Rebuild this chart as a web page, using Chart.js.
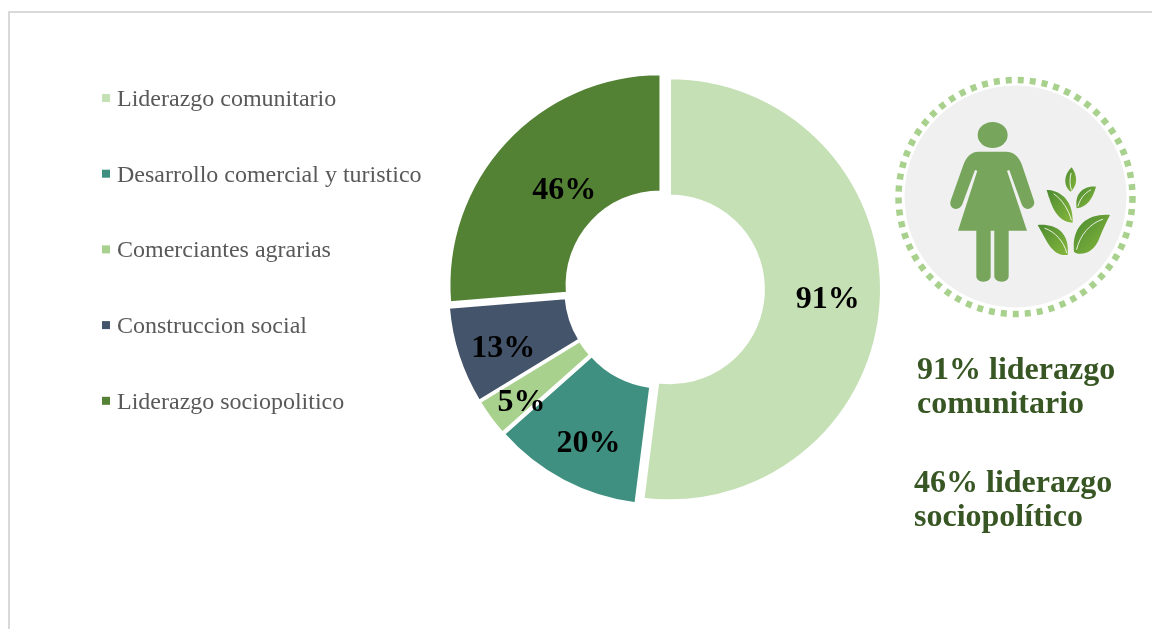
<!DOCTYPE html>
<html lang="es">
<head>
<meta charset="utf-8">
<title>Liderazgo</title>
<script src="https://cdn.jsdelivr.net/npm/chart.js@4"></script>
<style>
  html, body { margin: 0; padding: 0; background: #fff; overflow: hidden; }
  #page { position: relative; width: 1152px; height: 629px; overflow: hidden; }
  #frame { position: absolute; left: 8px; top: 11px; width: 1200px; height: 700px; border: 2px solid #d9d9d9; box-sizing: border-box; }
  canvas { position: absolute; left: 0; top: 0; }
  #icon { position: absolute; left: 0; top: 0; }
  .note { position: absolute; font: bold 32px/34px "Liberation Serif", serif; color: #375623; white-space: nowrap; }
</style>
</head>
<body>
<div id="page">
  <div id="frame"></div>
  <canvas id="chart" width="1152" height="629"></canvas>
  <svg id="icon" width="1152" height="629" viewBox="0 0 1152 629">
    <defs>
      <linearGradient id="leaf" x1="0" y1="0" x2="1" y2="1">
        <stop offset="0" stop-color="#4c8a32"/>
        <stop offset="1" stop-color="#86b83c"/>
      </linearGradient>
    </defs>
    <circle cx="1015.5" cy="196.5" r="111" fill="#f0f0f0"/>
    <circle cx="1015.5" cy="197" r="117" fill="none" stroke="#a9d18e" stroke-width="6.5" stroke-dasharray="6 6.03"/>
    <g transform="translate(880 60) scale(0.3333)">
      <ellipse cx="338" cy="225" rx="45" ry="39" fill="#76a55b"/>
      <path fill="#76a55b" d="M295 275 L380 275 C402 275 418 292 426 315 L462 422 C466 436 455 447 443 447 C434 447 428 441 425 433 L388 330 L381 332 L441 512 L386 512 L386 648 C386 658 378 665 366 665 C352 665 343 658 343 648 L343 512 L332 512 L332 648 C332 658 324 665 310 665 C297 665 289 658 289 648 L289 512 L234 512 L292 332 L285 330 L247 433 C243 442 236 447 228 447 C216 447 208 436 212 422 L250 315 C258 292 273 275 295 275 Z"/>
      <g fill="url(#leaf)">
        <path d="M575 322 C550 345 550 380 572 395 C595 375 592 345 575 322 Z"/>
        <path d="M648 380 C610 378 583 400 590 445 C625 440 640 410 648 380 Z"/>
        <path d="M500 390 C530 390 580 410 578 488 C530 485 515 440 500 390 Z"/>
        <path d="M473 495 C530 490 570 520 563 585 C515 590 500 540 473 495 Z"/>
        <path d="M690 465 C620 460 575 500 582 575 C590 585 640 590 660 530 C670 505 680 485 690 465 Z"/>
      </g>
      <g fill="none" stroke="#ffffff" stroke-width="3" stroke-linecap="round" opacity="0.85">
        <path d="M573 340 C568 360 570 378 574 390"/>
        <path d="M632 390 C612 400 600 418 594 438"/>
        <path d="M522 402 C548 420 566 450 574 480"/>
        <path d="M495 505 C525 515 552 545 560 578"/>
        <path d="M668 478 C630 490 600 525 590 568"/>
      </g>
    </g>
  </svg>
  <div class="note" style="left:917px;top:351px">91% liderazgo<br>comunitario</div>
  <div class="note" style="left:914px;top:464px">46% liderazgo<br>sociopolítico</div>
</div>
<script>
const categories = ['Liderazgo comunitario', 'Desarrollo comercial y turistico', 'Comerciantes agrarias', 'Construccion social', 'Liderazgo sociopolitico'];
const values = [91, 20, 5, 13, 46];
const colors = ['#c5e0b4', '#3f9080', '#a9d18e', '#44546a', '#548235'];

// the offset option does not push every slice out by the same amount, so move them here
const EXPLODE = 5.5;
const explode = {
  id: 'explode',
  afterDatasetsUpdate(chart) {
    chart.getDatasetMeta(0).data.forEach(arc => {
      const mid = (arc.startAngle + arc.endAngle) / 2;
      arc.x += Math.cos(mid) * EXPLODE;
      arc.y += Math.sin(mid) * EXPLODE;
    });
  }
};

// percentages sit by hand in the source, not quite mid-slice
const labelNudge = [[5.5, 1], [-2.3, 14.6], [-16.1, 19.7], [-11, 10.5], [15.9, 9.3]];
const sliceLabels = {
  id: 'sliceLabels',
  afterDatasetsDraw(chart) {
    const ctx = chart.ctx;
    ctx.save();
    ctx.font = 'bold 32px "Liberation Serif", serif';
    ctx.fillStyle = '#000';
    ctx.textAlign = 'center';
    ctx.textBaseline = 'middle';
    chart.getDatasetMeta(0).data.forEach((arc, i) => {
      const p = arc.getCenterPoint();
      ctx.fillText(values[i] + '%', p.x + labelNudge[i][0], p.y + labelNudge[i][1]);
    });
    ctx.restore();
  }
};

// built-in legend can't get the text this close to the box
const sideLegend = {
  id: 'sideLegend',
  afterDraw(chart) {
    const ctx = chart.ctx;
    ctx.save();
    ctx.font = '24px "Liberation Serif", serif';
    ctx.textBaseline = 'alphabetic';
    categories.forEach((name, i) => {
      const y = 98 + i * 75.7;
      ctx.fillStyle = colors[i];
      ctx.fillRect(102, y - 4, 8, 8);
      ctx.fillStyle = '#595959';
      ctx.fillText(name, 117, y + 8);
    });
    ctx.restore();
  }
};

new Chart(document.getElementById('chart'), {
  type: 'doughnut',
  data: {
    labels: categories,
    datasets: [{
      data: values,
      backgroundColor: colors,
      borderColor: '#fff',
      borderWidth: 2,
      radius: 211,
      cutout: '44.5%'
    }]
  },
  options: {
    responsive: false,
    animation: false,
    layout: { padding: { left: 177, bottom: 51 } },
    plugins: {
      tooltip: { enabled: false },
      legend: { display: false }
    }
  },
  plugins: [explode, sliceLabels, sideLegend]
});
</script>
</body>
</html>
